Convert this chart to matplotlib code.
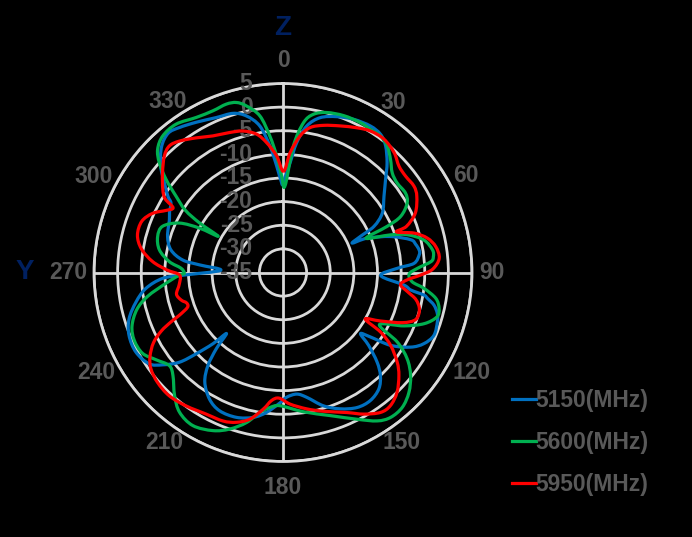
import numpy as np
import matplotlib
matplotlib.use("Agg")
import matplotlib.pyplot as plt
from matplotlib.path import Path
from matplotlib.patches import PathPatch
from matplotlib.lines import Line2D

plt.rcParams['font.family'] = ['Liberation Sans', 'DejaVu Sans']

# 5150 MHz (blue)
ang_5150 = [0, 3.7, 6.0, 9.2, 13.5, 19.1, 24.8, 30.8, 35.2, 39.0, 43.5, 47.8, 52.9, 59.1,
            63.1, 65.0, 67.0, 67.8, 71.5, 75.6, 78.0, 80.6, 82.5, 86.0, 87.9, 91.8, 95.9,
            97.8, 99.1, 100.2, 102.2, 104.9, 107.7, 112.6, 116.8, 120.3, 124.1, 126.4,
            128.3, 130.4, 133.6, 136.6, 140.5, 145.7, 151.2, 157.2, 163.1, 169.2, 173.5,
            178.3, 181.3, 186.7, 191.6, 197.8, 204.6, 210.1, 215.5, 218.9, 221.2, 222.8,
            224.5, 226.9, 229.1, 232.5, 235.7, 241.6, 247.8, 253.3, 258.7, 263.4, 267.2,
            268.5, 272.0, 275.2, 277.1, 281.4, 287.4, 294.9, 298.0, 301.8, 303.5, 307.0,
            311.0, 316.0, 320.5, 324.5, 330.1, 336.7, 342.6, 346.9, 351.0, 354.1, 356.6,
            359.1]
val_5150 = [-16.0, -11.7, -7.4, -3.6, -1.3, -0.1, 0.7, 1.1, 0.8, -0.5, -3.0, -5.7, -8.2, -10.5,
            -13.4, -16.9, -19.1, -15.8, -11.0, -7.1, -6.3, -5.8, -5.9, -7.2, -10.8, -14.3, -9.3,
            -7.7, -4.8, -3.9, -2.3, -1.2, -0.7, -0.4, -1.6, -3.7, -7.5, -12.0,
            -14.1, -11.2, -7.5, -5.0, -3.1, -2.2, -2.4, -3.7, -5.5, -8.1, -9.1,
            -8.6, -7.4, -5.2, -3.7, -2.8, -2.8, -4.0, -6.5, -9.7, -13.6, -17.4,
            -13.9, -9.8, -6.0, -2.9, -0.7, 0.4, 0.2, -1.0, -3.3, -5.8, -9.5,
            -14.0, -21.8, -17.3, -13.6, -10.8, -9.4, -8.5, -7.8, -7.1, -5.8, -3.6,
            -0.7, 2.0, 3.2, 2.7, 1.7, 0.7, 0.3, -1.0, -3.6, -8.1, -12.4,
            -16.0]

# 5600 MHz (green)
ang_5600 = [1.3, 4.7, 7.8, 10.9, 15.3, 21.2, 27.3, 31.4, 35.5, 39.5, 43.6, 47.6, 51.9, 57.0,
            60.8, 64.5, 66.1, 67.6, 70.7, 73.1, 77.0, 81.4, 84.0, 85.8, 88.2, 90.7, 94.1,
            96.4, 99.6, 103.0, 106.1, 109.9, 113.8, 118.4, 121.3, 124.8, 128.9, 133.6,
            138.5, 143.4, 147.6, 153.2, 161.7, 171.6, 181.3, 185.5, 189.4, 193.7, 198.8,
            203.9, 210.5, 216.5, 221.4, 226.9, 230.7, 235.5, 240.1, 245.5, 250.5, 255.8,
            260.0, 264.7, 268.6, 269.5, 272.4, 275.5, 280.4, 286.0, 291.0, 295.5, 298.0,
            299.2, 300.7, 302.5, 305.5, 308.5, 311.6, 314.5, 318.6, 324.2, 330.8, 336.6,
            341.4, 344.7, 347.6, 351.6, 354.5, 356.9, 359.2]
val_5600 = [-16.7, -8.1, -3.0, -0.9, 0.1, 0.6, 0.7, 0.5, 0.5, -0.3, -2.0, -3.7, -4.3, -4.1,
            -4.9, -7.4, -10.9, -16.0, -10.9, -7.5, -4.4, -3.0, -3.0, -3.6, -6.5, -8.3, -7.6,
            -5.0, -2.2, -1.1, -1.1, -3.2, -7.0, -11.8, -6.7, -3.0, -0.3, 1.8,
            3.1, 3.2, 2.2, -0.2, -3.1, -5.2, -6.8, -6.3, -5.0, -2.3, 0.0,
            1.6, 2.6, 1.8, -0.3, -3.1, -3.9, -2.4, -0.7, -0.4, -1.1, -3.1,
            -5.9, -10.1, -13.1, -14.1, -13.4, -10.8, -8.4, -7.4, -7.7, -10.7, -15.0,
            -19.3, -14.5, -10.5, -7.2, -3.4, 0.0, 2.2, 3.5, 3.7, 2.6, 2.3,
            2.6, 2.3, 1.1, -1.5, -6.0, -10.3, -14.6]

# 5950 MHz (red)
ang_5950 = [0.3, 3.4, 7.1, 10.6, 15.4, 21.3, 27.1, 31.7, 37.1, 42.8, 47.5, 51.8, 56.6, 60.3,
            65.8, 69.5, 70.3, 73.3, 76.6, 80.4, 84.8, 88.7, 91.0, 93.3, 95.9, 98.8, 101.5,
            105.1, 109.5, 112.8, 116.5, 119.5, 121.4, 124.1, 128.1, 131.6, 136.4, 141.1,
            145.1, 150.3, 155.4, 163.7, 170.1, 176.9, 181.8, 185.1, 188.2, 192.7, 197.3,
            202.0, 208.5, 216.0, 222.7, 228.8, 233.9, 237.7, 241.5, 244.3, 246.2, 247.6,
            250.0, 252.5, 254.8, 258.5, 263.5, 268.6, 271.2, 274.8, 279.5, 284.4, 289.9,
            294.4, 298.0, 300.5, 302.0, 304.6, 309.6, 314.5, 318.1, 321.8, 327.2, 332.8,
            339.2, 344.3, 349.2, 352.8, 356.9]
val_5950 = [-13.6, -9.6, -5.9, -3.8, -2.7, -1.7, -0.6, 0.2, 0.4, -0.4, -1.7, -2.0, -1.8, -2.4,
            -4.3, -7.1, -9.5, -6.0, -3.6, -2.2, -1.8, -3.3, -5.8, -8.6, -10.0, -8.3, -6.3,
            -5.1, -5.2, -7.6, -12.0, -15.0, -10.8, -7.5, -4.3, -2.2, 0.0, 1.2,
            1.1, -0.5, -2.4, -4.4, -5.7, -7.1, -8.4, -7.8, -5.8, -3.2, -1.8,
            -1.1, -0.9, -0.1, 0.5, 0.3, -0.4, -1.7, -3.8, -6.4, -9.1, -11.3,
            -13.5, -13.6, -12.7, -12.0, -12.9, -13.1, -10.5, -7.3, -4.6, -3.2, -3.2,
            -4.7, -7.0, -8.0, -5.6, -4.1, -1.9, 0.2, 1.0, 0.4, -1.1, -2.5,
            -3.3, -3.9, -5.2, -7.3, -10.3]

series = [("5150(MHz)", ang_5150, val_5150, "#0070C0"),
          ("5600(MHz)", ang_5600, val_5600, "#00B050"),
          ("5950(MHz)", ang_5950, val_5950, "#FF0000")]

r_ticks = [-35, -30, -25, -20, -15, -10, -5, 0, 5]
theta_ticks = [0, 30, 60, 90, 120, 150, 180, 210, 240, 270, 300, 330]
# label placement (angle, distance from centre in px) as drawn in the original
lab_ang = [0, 33, 62, 90, 118, 145, 180, 215, 242, 270, 297, 326]
lab_dist = [212, 203, 207, 209, 213, 207, 215, 207, 212, 215, 212, 206]

R_MIN, R_MAX = -35, 5

W, H = 692, 537
fig = plt.figure(figsize=(W / 100, H / 100), dpi=100, facecolor="black")
cx, cy, R = 283, 272.5, 189
rect = [(cx - R) / W, (H - cy - R) / H, 2 * R / W, 2 * R / H]
ax = fig.add_axes(rect, projection="polar")
ax.set_facecolor("black")
ax.set_theta_zero_location("N")
ax.set_theta_direction(-1)
ax.set_ylim(R_MIN, R_MAX)

grid_col = "#D9D9D9"
ax.set_yticks(r_ticks)
ax.set_yticklabels([])
ax.set_xticks(np.radians(theta_ticks))
ax.set_xticklabels([])
ax.tick_params(length=0)
ax.grid(True, color=grid_col, lw=2)
for i, gl in enumerate(ax.xaxis.get_gridlines()):
    gl.set_visible(theta_ticks[i] % 90 == 0)
ax.spines["polar"].set_color(grid_col)
ax.spines["polar"].set_linewidth(2)

# overlay cartesian axes for smoothed (Bezier) curves, like Excel's smoothed lines
span = R_MAX - R_MIN
cax = fig.add_axes(rect, frameon=False)
cax.set_xlim(-span, span)
cax.set_ylim(-span, span)
cax.axis("off")


def smooth_path(a, v):
    th = np.radians(a)
    rr = np.asarray(v) - R_MIN
    pts = np.column_stack([rr * np.sin(th), rr * np.cos(th)])
    n = len(pts)
    verts = [pts[0]]
    codes = [Path.MOVETO]
    for i in range(n):
        p0, p1 = pts[i - 1], pts[i]
        p2, p3 = pts[(i + 1) % n], pts[(i + 2) % n]
        verts += [p1 + (p2 - p0) / 6.0, p2 - (p3 - p1) / 6.0, p2]
        codes += [Path.CURVE4] * 3
    return Path(verts, codes)


handles = []
for name, a, v, c in series:
    cax.add_patch(PathPatch(smooth_path(a, v), facecolor="none", edgecolor=c, lw=2.3,
                            joinstyle="round"))
    handles.append(Line2D([], [], color=c, lw=2.3, label=name))

txt = "#595959"
fs = 16.5
for v in r_ticks:
    ax.annotate(str(v), xy=(0, v), xytext=(-22, 0), textcoords="offset points",
                ha="right", va="center", color=txt, fontsize=fs, fontweight="bold")

px_per_unit = R / span
for lab, a, d in zip(theta_ticks, lab_ang, lab_dist):
    ax.text(np.radians(a), d / px_per_unit + R_MIN, str(lab), ha="center", va="center",
            color=txt, fontsize=fs, fontweight="bold", clip_on=False)

fig.text(283 / W, 1 - 28 / H, "Z", ha="center", va="center", color="#002060",
         fontsize=20, fontweight="bold")
fig.text(25 / W, 1 - 272 / H, "Y", ha="center", va="center", color="#002060",
         fontsize=20, fontweight="bold")

leg = cax.legend(handles=handles, loc="upper left", bbox_to_anchor=(511.7 / W, 1 - 389 / H),
                 bbox_transform=fig.transFigure, frameon=False, borderpad=0,
                 borderaxespad=0, handlelength=1.05, handletextpad=0.0,
                 labelspacing=0.84, prop={"size": fs, "weight": "bold"})
for t in leg.get_texts():
    t.set_color(txt)

fig.savefig("out.png", dpi=100, facecolor="black")
